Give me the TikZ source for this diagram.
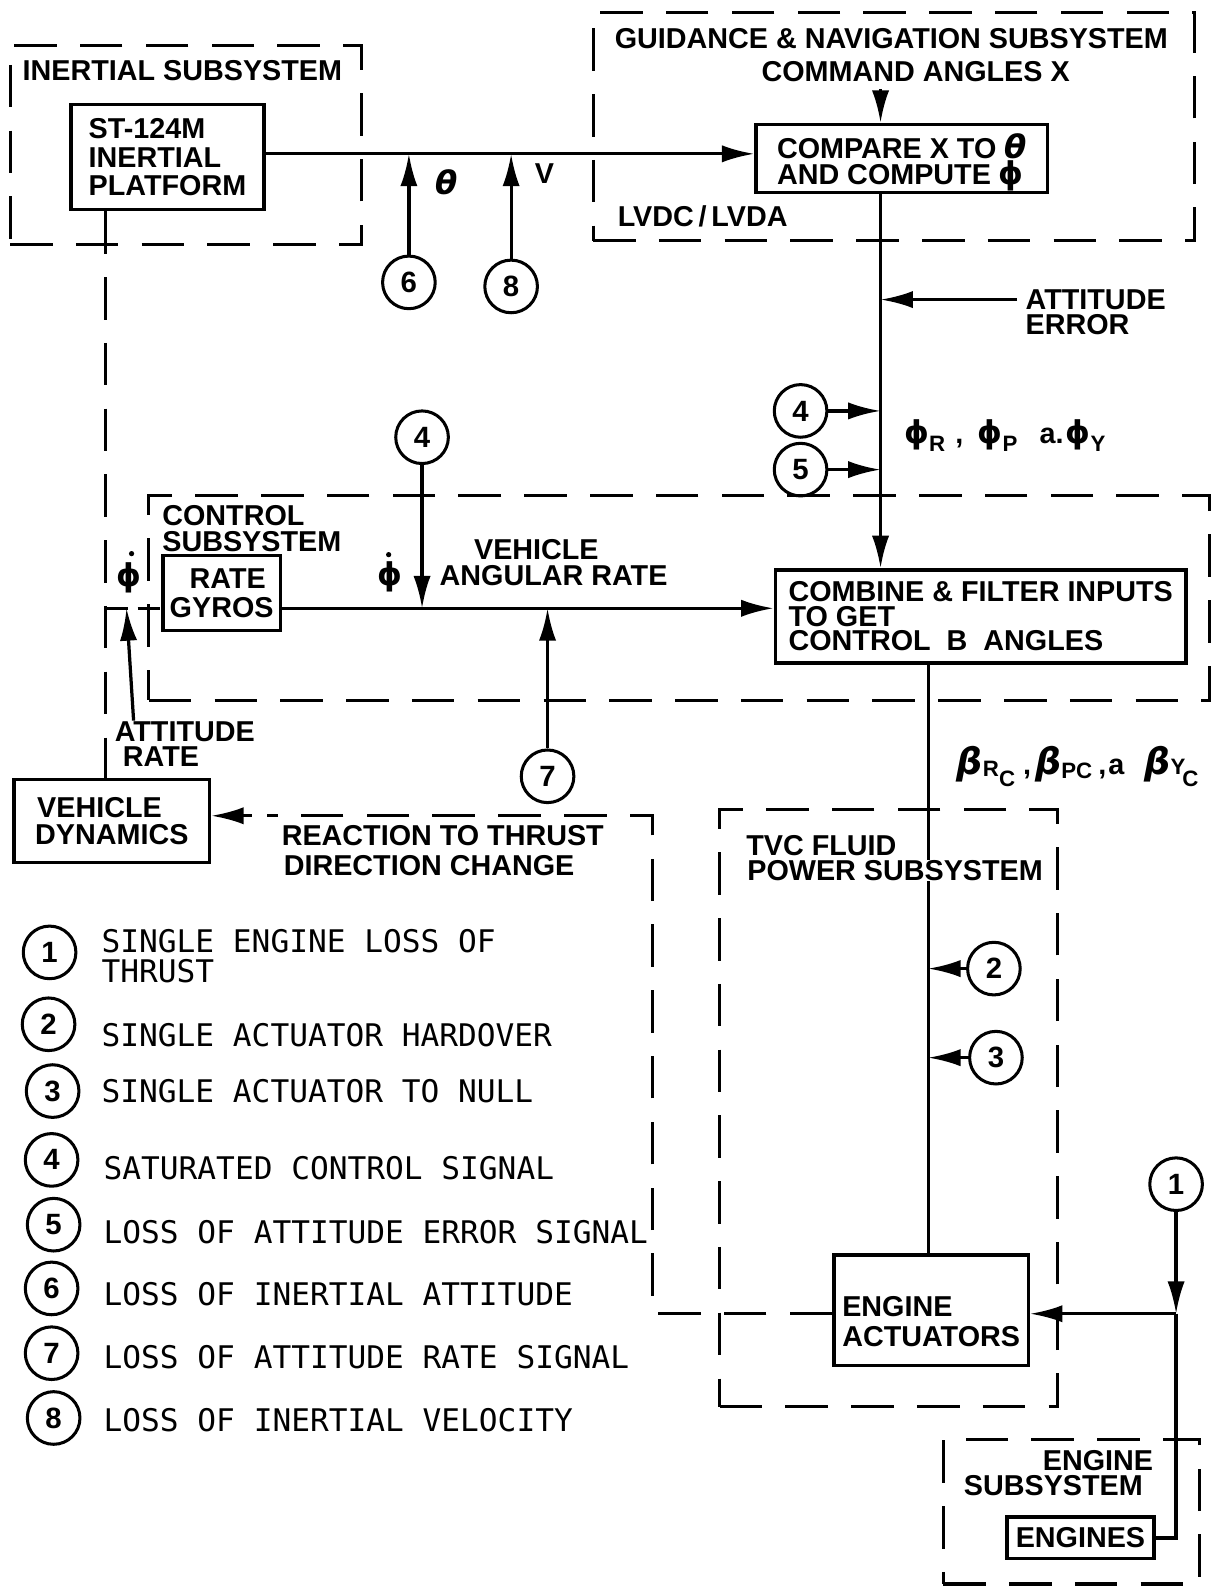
\documentclass[tikz,border=0pt]{standalone}
\usepackage{fontspec}
\setmainfont{Liberation Sans}
\newfontfamily\legfont{DejaVu Sans Mono}
\newfontfamily\grkfont{DejaVu Sans}
\usetikzlibrary{arrows.meta}
\newcommand\LblFont{\fontsize{14.2pt}{12.8pt}\selectfont\bfseries}
\newcommand\LegFont{\legfont\fontsize{15.4pt}{16pt}\selectfont}
\newcommand\CircFont{\fontsize{14.5pt}{14.5pt}\selectfont\bfseries}
\newcommand\GrkUp{\grkfont\bfseries\fontsize{15.5pt}{15.5pt}\selectfont}
\newcommand\GrkIt{\grkfont\bfseries\itshape\fontsize{16pt}{16pt}\selectfont}
\newcommand\GrkBeta{\grkfont\bfseries\itshape\fontsize{18pt}{18pt}\selectfont}
\newcommand\SubLet[2][-4pt]{\raisebox{#1}{\fontsize{11pt}{11pt}\selectfont\bfseries #2}}
\begin{document}
\begin{tikzpicture}[x=0.5pt,y=-0.5pt,
  every node/.style={inner sep=0pt},
  lbl/.style={font=\LblFont, anchor=west, inner sep=0pt},
  leg/.style={font=\LegFont, anchor=west, inner sep=0pt},
  blk/.style={draw, line width=1.7pt, font=\LblFont, align=left, inner sep=0pt},
  subsys/.style={draw, dash pattern=on 21pt off 11.5pt, line width=1.5pt, inner sep=0pt},
  circ/.style={circle, draw, line width=1.5pt, minimum size=26pt, inner sep=0pt, font=\CircFont},
  wire/.style={line width=1.6pt},
  arr/.style={wire, -{Latex[length=16pt,width=8.5pt]}},
  dwire/.style={line width=1.5pt, dash pattern=on 21pt off 11.5pt},
]
\useasboundingbox (0,0) rectangle (1197,1568);

% ---------- subsystem frames ----------
\node[subsys, minimum width=173.5pt, minimum height=98.5pt] (inert) at (183.5,143.5) {};
\node[subsys, minimum width=297pt, minimum height=113pt] (gn) at (883,125) {};
\node[subsys, minimum width=524pt, minimum height=101pt] (ctl) at (671,591) {};
\node[subsys, minimum width=167pt, minimum height=295pt] (tvc) at (878,1095) {};
\node[subsys, minimum width=126.5pt, minimum height=71.5pt] (engsub) at (1058.5,1493.5) {};

% ---------- blocks ----------
\node[blk, minimum width=95.5pt, minimum height=52pt] (st) at (165.5,155) {ST-124M\\[1.6pt]INERTIAL\\[1pt]PLATFORM};
\node[blk, minimum width=144pt, minimum height=33.5pt] (cmp) at (891,156.5) {\rule{0pt}{16.5pt}COMPARE X TO {\GrkIt θ}\\[0pt]AND COMPUTE {\GrkUp ϕ}};
\node[blk, align=center, minimum width=58pt, minimum height=37pt] (rg) at (219,586) {\hspace*{6pt}RATE\\[1.5pt]GYROS};
\node[blk, minimum width=203pt, minimum height=46pt] (comb) at (969,609) {COMBINE \& FILTER INPUTS\\[-0.6pt]TO GET\\[-0.6pt]CONTROL\ \ B\ \ ANGLES};
\node[blk, minimum width=96.5pt, minimum height=41pt] (vd) at (110.5,811) {\hspace*{1pt}VEHICLE\\[0.5pt]DYNAMICS};
\node[blk, minimum width=96pt, minimum height=54.5pt] (ea) at (920,1294.5) {\rule{0pt}{21pt}ENGINE\\[2pt]ACTUATORS};
\node[blk, minimum width=72.5pt, minimum height=20.5pt] (eng) at (1067.5,1519.5) {ENGINES};

% ---------- fault circles ----------
\node[circ] (c6) at (404,279) {6};
\node[circ] (c8) at (505,283) {8};
\node[circ] (c4b) at (791,406) {4};
\node[circ] (c5) at (791,464) {5};
\node[circ] (c4a) at (417,432) {4};
\node[circ] (c7) at (541,767) {7};
\node[circ] (c2) at (982,957) {2};
\node[circ] (c3) at (984,1045) {3};
\node[circ] (c1) at (1162,1170) {1};

% ---------- helper coordinates ----------
\coordinate (vx) at (870,0);
\coordinate (bx) at (917,0);
\coordinate (lx) at (104,0);
\coordinate (ly) at (0,152);
\coordinate (ry) at (0,601);
\coordinate (cmdtail) at (870,88);
\coordinate (attetail) at (1005,296);
\coordinate (j) at (1162,1298);
\coordinate (rl1) at (645,1298);
\coordinate (rl2) at (645,806);
\coordinate (artail) at (132,712);
\coordinate (arhead) at (125,601);

% ---------- connectors ----------
\draw[arr] (st.east |- ly) -- (cmp.west |- ly);
\draw[arr] (c6.north) -- (c6.north |- ly);
\draw[arr] (c8.north) -- (c8.north |- ly);
\draw[arr] (cmdtail) -- (cmdtail |- cmp.north);
\draw[arr] (cmp.south -| vx) -- (comb.north -| vx);
\draw[arr] (attetail) -- (attetail -| vx);
\draw[arr] (c4b.east) -- (c4b.east -| vx);
\draw[arr] (c5.east) -- (c5.east -| vx);
\draw[arr] (rg.east |- ry) -- (comb.west |- ry);
\draw[arr] (c4a.south) -- (c4a.south |- ry);
\draw[arr] (c7.north) -- (c7.north |- ry);
\draw[wire] (comb.south -| bx) -- (ea.north -| bx);
\draw[arr] (c2.west) -- (c2.west -| bx);
\draw[arr] (c3.west) -- (c3.west -| bx);
\draw[arr] (c1.south) -- (j);
\draw[arr] (j) -- (j -| ea.east);
\draw[wire] (j) -- (j |- eng.east) -- (eng.east);
\draw[dwire] (st.south -| lx) -- (vd.north -| lx);
\draw[wire, dash pattern=on 11pt off 5pt] (lx |- ry) -- (rg.west |- ry);
\draw[arr] (artail) -- (arhead);
\draw[dwire] (j -| ea.west) -- (rl1) -- (rl2) -- ([xshift=27.5pt]rl2 -| vd.east);
\draw[arr] ([xshift=20pt]rl2 -| vd.east) -- (rl2 -| vd.east);

% ---------- labels ----------
\node[lbl] (tinert) at (22,70) {INERTIAL SUBSYSTEM};
\node[font=\GrkIt] (ttheta) at (441,180) {θ};
\node[lbl, anchor=center] (tv) at (538,172) {V};
\node[lbl] (tgn) at (607,38) {GUIDANCE \& NAVIGATION SUBSYSTEM};
\node[lbl] (tcmd) at (752,71) {COMMAND ANGLES X};
\node[lbl] (tlvdc) at (610,214) {LVDC\,/\,LVDA};
\node[lbl] (tatt1) at (1013,296) {ATTITUDE};
\node[lbl] (tatt2) at (1013,321) {ERROR};
\node[anchor=west] (tphi) at (893,430) {{\GrkUp ϕ}\SubLet{R}\hspace{5pt}{\LblFont ,}\hspace{7pt}{\GrkUp ϕ}\SubLet{P}\hspace{11pt}{\LblFont a.}\kern1pt{\GrkUp ϕ}\SubLet{Y}};
\node[lbl] (tctl1) at (160,509) {CONTROL};
\node[lbl] (tctl2) at (160,535) {SUBSYSTEM};
\node[font=\GrkUp] (tpd1) at (385,570) {ϕ};
\fill (384,548) circle (2.6);
\node[font=\GrkUp] (tpd2) at (127,571) {ϕ};
\fill (130,547) circle (2.6);
\node[lbl] (tveh1) at (468,543) {VEHICLE};
\node[lbl] (tveh2) at (434,569) {ANGULAR RATE};
\node[anchor=west] (tbeta) at (945,757) {{\GrkBeta β}\SubLet[-1pt]{R}\SubLet[-6pt]{C}\hspace{4pt}{\LblFont ,}\hspace{2pt}{\GrkBeta β}\SubLet[-2pt]{PC}\hspace{3pt}{\LblFont ,}\hspace{1pt}{\LblFont a}\hspace{10pt}{\GrkBeta β}\SubLet[0pt]{Y}\kern-1.5pt\SubLet[-6pt]{C}};
\node[lbl] (ttvc1) at (737,835) {TVC FLUID};
\node[lbl, fill=white, inner xsep=1pt] (ttvc2) at (736,860) {POWER SUBSYSTEM};
\node[lbl] (tes1) at (1030,1443) {ENGINE};
\node[lbl] (tes2) at (952,1468) {SUBSYSTEM};
\node[lbl] (tar1) at (113,723) {ATTITUDE};
\node[lbl] (tar2) at (121,748) {RATE};
\node[lbl] (tre1) at (278,826) {REACTION TO THRUST};
\node[lbl] (tre2) at (280,855) {DIRECTION CHANGE};

% ---------- legend ----------
\node[circ] (L1) at (49,941) {1};
\node[leg] (L1a) at (100,930) {SINGLE ENGINE LOSS OF};
\node[leg] (L1b) at (100,960) {THRUST};
\node[circ] (L2) at (48,1012) {2};
\node[leg] (L2a) at (100,1023) {SINGLE ACTUATOR HARDOVER};
\node[circ] (L3) at (52,1078) {3};
\node[leg] (L3a) at (100,1078) {SINGLE ACTUATOR TO NULL};
\node[circ] (L4) at (51,1146) {4};
\node[leg] (L4a) at (102,1154) {SATURATED CONTROL SIGNAL};
\node[circ] (L5) at (53,1210) {5};
\node[leg] (L5a) at (102,1217) {LOSS OF ATTITUDE ERROR SIGNAL};
\node[circ] (L6) at (51,1273) {6};
\node[leg] (L6a) at (102,1279) {LOSS OF INERTIAL ATTITUDE};
\node[circ] (L7) at (51,1337) {7};
\node[leg] (L7a) at (102,1341) {LOSS OF ATTITUDE RATE SIGNAL};
\node[circ] (L8) at (53,1401) {8};
\node[leg] (L8a) at (102,1403) {LOSS OF INERTIAL VELOCITY};
\end{tikzpicture}
\end{document}
